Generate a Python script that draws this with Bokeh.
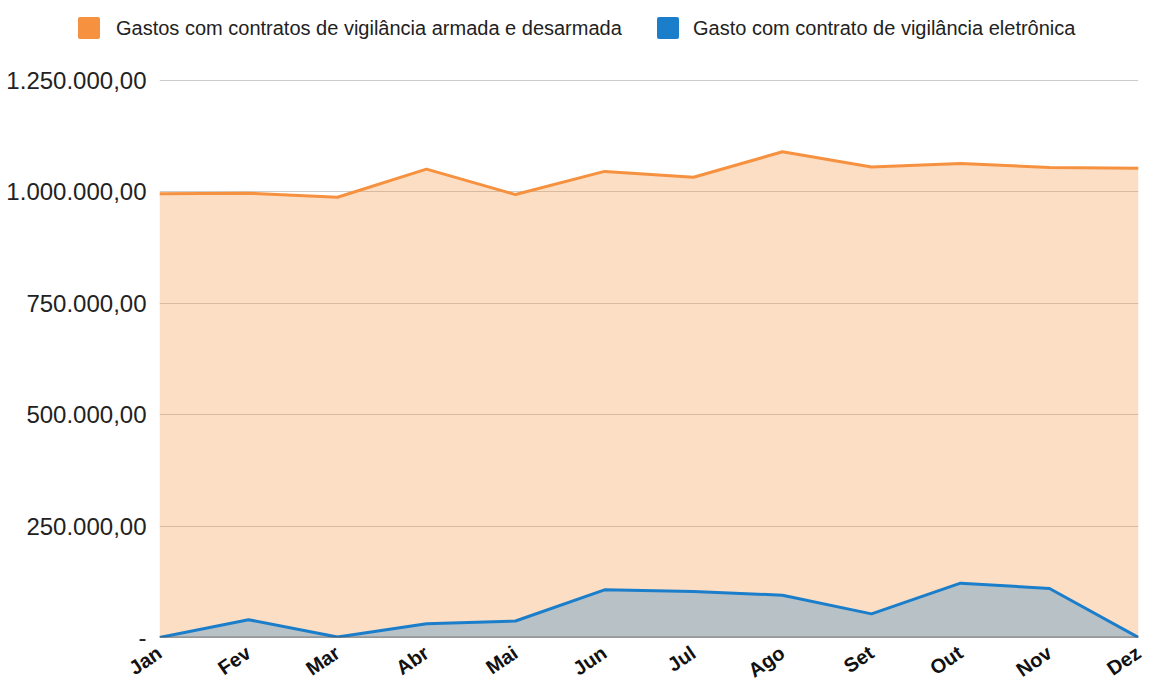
from bokeh.plotting import figure
from bokeh.layouts import column
from bokeh.models import Range1d, FixedTicker, Span, Div
from bokeh.embed import file_html
from bokeh.resources import INLINE

months = ["Jan", "Fev", "Mar", "Abr", "Mai", "Jun", "Jul", "Ago", "Set", "Out", "Nov", "Dez"]
armada = [996000, 997000, 988000, 1051000, 994000, 1046000, 1033000, 1090000, 1056000, 1064000, 1055000, 1053000]
eletronica = [0, 40000, 1000, 31000, 37000, 107000, 103000, 95000, 53000, 122000, 110000, 0]
y_ticks = [0, 250000, 500000, 750000, 1000000, 1250000]
y_tick_labels = ["-", "250.000,00", "500.000,00", "750.000,00", "1.000.000,00", "1.250.000,00"]
series_names = ["Gastos com contratos de vigilância armada e desarmada",
                "Gasto com contrato de vigilância eletrônica"]

ORANGE = "#F6913F"
BLUE = "#1B7ECB"
FONT = "Liberation Sans"

W = 1158
LEG_H = 60
MAIN_H = 693 - LEG_H
BORDER_L, BORDER_R, BORDER_B = 159, 20, 56
frame_h = MAIN_H - BORDER_B
top_px = 20  # canvas y of the top gridline in the main figure
y_end = y_ticks[-1] * frame_h / (frame_h - top_px)

x = list(range(len(months)))

# ---------- legend strip (HTML) ----------
def swatch(left, color):
    return (f'<span style="position:absolute;left:{left}px;top:17px;width:22px;height:22px;'
            f'background:{color};border-radius:2px;"></span>')

def label(left, txt):
    return (f'<span style="position:absolute;left:{left}px;top:17px;line-height:22px;'
            f'white-space:nowrap;">{txt}</span>')

legend_html = (
    f'<div style="position:relative;width:{W}px;height:{LEG_H}px;'
    f"font-family:'{FONT}',Arial,sans-serif;font-size:20px;color:#222222;\">"
    + swatch(78, ORANGE) + label(116, series_names[0])
    + swatch(657, BLUE) + label(693, series_names[1])
    + '</div>'
)
leg = Div(text=legend_html, width=W, height=LEG_H, margin=0)

# ---------- main chart ----------
p = figure(width=W, height=MAIN_H, output_backend="svg", toolbar_location=None,
           x_range=Range1d(0, len(months) - 1), y_range=Range1d(0, y_end),
           min_border_left=BORDER_L, min_border_right=BORDER_R,
           min_border_top=0, min_border_bottom=BORDER_B)
p.outline_line_color = None

p.varea(x=x, y1=0, y2=armada, fill_color=ORANGE, fill_alpha=0.3)
p.line(x=x, y=armada, line_color=ORANGE, line_width=3)
p.varea(x=x, y1=0, y2=eletronica, fill_color=BLUE, fill_alpha=0.3)
p.line(x=x, y=eletronica, line_color=BLUE, line_width=3)

p.add_layout(Span(location=0, dimension="width", line_color="#444444", line_width=1.5))

p.yaxis.ticker = FixedTicker(ticks=y_ticks)
p.yaxis.major_label_overrides = {t: l for t, l in zip(y_ticks, y_tick_labels)}
p.yaxis.axis_line_color = None
p.yaxis.major_tick_line_color = None
p.yaxis.minor_tick_line_color = None
p.yaxis.major_tick_out = 0
p.yaxis.major_label_standoff = 13
p.yaxis.major_label_text_font = FONT
p.yaxis.major_label_text_font_size = "24px"
p.yaxis.major_label_text_color = "#222222"

p.xaxis.ticker = FixedTicker(ticks=x)
p.xaxis.major_label_overrides = {i: m for i, m in zip(x, months)}
p.xaxis.axis_line_color = None
p.xaxis.major_tick_line_color = None
p.xaxis.minor_tick_line_color = None
p.xaxis.major_tick_out = 0
p.xaxis.major_label_standoff = 13
p.xaxis.major_label_orientation = 0.6
p.xaxis.major_label_text_font = FONT
p.xaxis.major_label_text_font_style = "bold"
p.xaxis.major_label_text_font_size = "20px"
p.xaxis.major_label_text_color = "#111111"

p.xgrid.grid_line_color = None
p.ygrid.ticker = FixedTicker(ticks=y_ticks)
p.ygrid.grid_line_color = "#CCCCCC"
p.ygrid.grid_line_width = 1

layout = column(leg, p, spacing=0)
open("out.html", "w").write(file_html(layout, INLINE))
